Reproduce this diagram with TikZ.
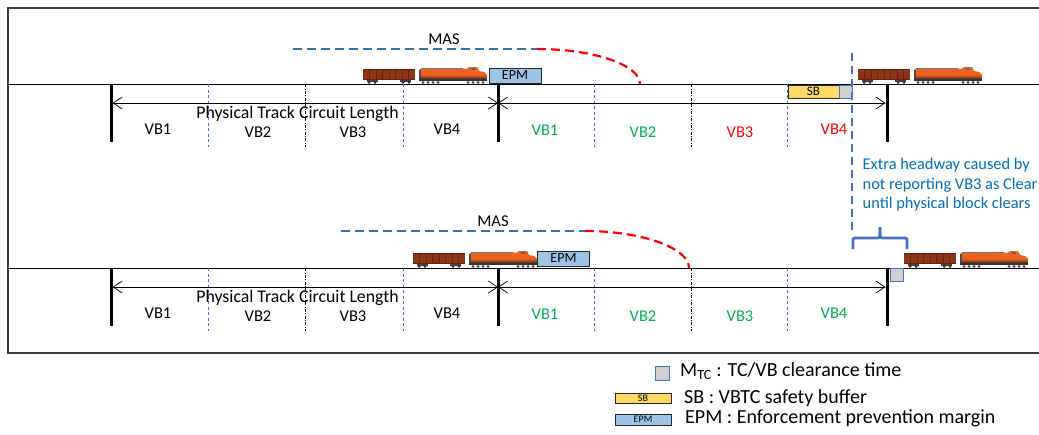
\documentclass[tikz,border=0pt]{standalone}
\usepackage{fontspec}
\setmainfont{Carlito}
\usetikzlibrary{arrows.meta}

\definecolor{framegray}{RGB}{60,60,60}
\definecolor{masblue}{RGB}{46,117,182}
\definecolor{divblue}{RGB}{68,114,196}
\definecolor{vbgreen}{RGB}{0,176,80}
\definecolor{vbred}{RGB}{255,0,0}
\definecolor{noteblue}{RGB}{0,112,192}
\definecolor{epmfill}{RGB}{157,195,230}
\definecolor{sbfill}{RGB}{255,217,102}
\definecolor{mtcfill}{RGB}{208,206,206}
\definecolor{carbrown}{RGB}{140,52,22}
\definecolor{carrib}{RGB}{100,34,12}
\definecolor{locoorange}{RGB}{236,98,36}
\definecolor{locodark}{RGB}{190,70,22}

\tikzset{
  frameline/.style={draw=framegray, line width=1.5pt},
  track/.style={draw=black, line width=1pt},
  boundary/.style={draw=black, line width=3pt},
  vbdiv/.style={draw=divblue, line width=0.8pt, dash pattern=on 3pt off 2.5pt},
  tcdiv/.style={draw=black, line width=0.7pt, dash pattern=on 3pt off 1.5pt on 0.8pt off 1.5pt},
  dimline/.style={draw=black, line width=0.7pt,
    {Straight Barb[length=9pt,width=12pt]}-{Straight Barb[length=9pt,width=12pt]}},
  vblabel/.style={font=\fontsize{16.5}{19}\selectfont, anchor=base, inner sep=0pt},
  physlabel/.style={font=\fontsize{17.8}{20}\selectfont, anchor=base, inner sep=0pt},
  maslink/.style={draw=masblue, line width=2.2pt, dash pattern=on 9pt off 5pt},
  masarc/.style={draw=vbred, line width=2.2pt, dash pattern=on 9pt off 5pt},
  epmbox/.style={draw=black!85, fill=epmfill, line width=0.9pt, minimum width=52pt,
    minimum height=15pt, inner sep=0pt, font=\fontsize{14}{14}\selectfont},
  sbbox/.style={draw=black!85, fill=sbfill, line width=0.9pt, minimum width=51pt,
    minimum height=13pt, inner sep=0pt, font=\fontsize{13}{13}\selectfont},
  mtcbox/.style={draw=divblue, fill=mtcfill, line width=0.9pt, minimum width=13pt,
    minimum height=13pt, inner sep=0pt},
  headmark/.style={draw=divblue, line width=2.8pt, dash pattern=on 8pt off 5pt},
  bracket/.style={draw=divblue, line width=2.8pt},
  note/.style={text=noteblue, font=\fontsize{16.4}{19.5}\selectfont, anchor=base west, inner sep=0pt},
  legtext/.style={font=\fontsize{20}{22}\selectfont, anchor=base west, inner sep=0pt},
  train/.pic={
    % open box car
    \fill[carbrown] (0,-15) rectangle (52,-4);
    \fill[carrib] (0,-15) rectangle (52,-13.8);
    \fill[carrib] (0,-5) rectangle (52,-4);
    \foreach \k in {1,...,7} \draw[carrib, line width=0.5pt] ({\k*6.5},-15) -- ({\k*6.5},-4);
    \fill[black!75] (4,-4) rectangle (15,-2);
    \fill[black!75] (37,-4) rectangle (48,-2);
    \foreach \w in {6,12,40,46} \fill[black!80] (\w,-1.5) circle (1.5);
    % locomotive
    \fill[black!80] (56,-6) rectangle (124,-3);
    \foreach \w in {60,65,70,75,105,110,115,120} \fill[black!70] (\w,-1.6) circle (1.6);
    \fill[locoorange] (56,-6) -- (56,-14) -- (58,-15.5) -- (104,-15.5) -- (106,-17)
      -- (114,-17) -- (116,-13) -- (121,-12) -- (124,-9) -- (124,-6) -- cycle;
    \fill[black!55] (58,-16.5) rectangle (100,-15.5);
    \fill[locodark] (56,-8.5) rectangle (124,-6);
    \fill[black!60] (108,-16) rectangle (112,-14);
    \fill[black!70] (56,-14) rectangle (57.5,-6);
  }
}

% one track row: #1 name prefix, #2 and #3 colours of the right-hand VB3 and VB4
\newcommand\trackrow[3]{%
  \draw[track] (8,0) coordinate (#1w) -- (1039,0) coordinate (#1e);
  \foreach \x in {208,403,594,787} \draw[vbdiv] (\x,0) -- (\x,63);
  \foreach \x in {305,691} \draw[tcdiv] (\x,0) -- (\x,63);
  \draw[boundary] (111,0) coordinate (#1b0) -- (111,58);
  \draw[boundary] (498,0) coordinate (#1b1) -- (498,58);
  \draw[boundary] (887,0) coordinate (#1b2) -- (887,58);
  \coordinate (#1d0) at (112.5,19);
  \coordinate (#1d1) at (498,19);
  \coordinate (#1d2) at (885.5,19);
  \draw[dimline] (#1d0) -- (#1d1);
  \draw[dimline] (#1d1) -- (#1d2);
  \node[physlabel] (#1phys) at (297.5,34.5) {Physical Track Circuit Length};
  \node[vblabel] (#1l1) at (158,50) {VB1};
  \node[vblabel] (#1l2) at (258,53) {VB2};
  \node[vblabel] (#1l3) at (353,53) {VB3};
  \node[vblabel] (#1l4) at (447,50) {VB4};
  \node[vblabel, text=vbgreen] (#1r1) at (545,51) {VB1};
  \node[vblabel, text=vbgreen] (#1r2) at (643,53) {VB2};
  \node[vblabel, text=#2] (#1r3) at (740,53) {VB3};
  \node[vblabel, text=#3] (#1r4) at (834,50) {VB4};
}

\begin{document}
\begin{tikzpicture}[x=1pt, y=-1pt]
\useasboundingbox (0,0) rectangle (1039,434);
\fill[white] (0,0) rectangle (1039,434);

% frame
\draw[frameline] (1039,8) -- (8,8) -- (8,353) -- (1039,353);

% the two track rows
\begin{scope}[shift={(0,84)}]
  \trackrow{top}{vbred}{vbred}
\end{scope}
\begin{scope}[shift={(0,268)}]
  \trackrow{bot}{vbgreen}{vbgreen}
\end{scope}

% upper scenario
\coordinate (masA0) at (293,49);
\coordinate (masA1) at (537,49);
\coordinate (masA2) at (640,84);
\draw[maslink] (masA0) -- (masA1);
\draw[masarc] (masA1) .. controls (594,49) and (640,65) .. (masA2);
\node[vblabel] (masA) at (444,44) {MAS};
\pic (trainA) at (363,84) {train};
\node[epmbox] (epmA) at (515,75.5) {EPM};
\pic (trainB) at (858,84) {train};
\node[sbbox] (sbA) at (813.5,91.5) {SB};
\node[mtcbox, anchor=west] (mtcA) at (sbA.east) {};

% lower scenario
\coordinate (masB0) at (341,231);
\coordinate (masB1) at (585,231);
\coordinate (masB2) at (689,268);
\draw[maslink] (masB0) -- (masB1);
\draw[masarc] (masB1) .. controls (642,231) and (689,248) .. (masB2);
\node[vblabel] (masB) at (493,226) {MAS};
\pic (trainC) at (413,268) {train};
\node[epmbox] (epmB) at (563.5,258.5) {EPM};
\pic (trainD) at (904,268) {train};
\node[mtcbox] (mtcB) at (896.5,274.5) {};

% extra headway marker
\coordinate (hm0) at (852,53);
\coordinate (hm1) at (852,232);
\draw[headmark] (hm0) -- (hm1);
\draw[bracket] (853,249) -- (853,242) .. controls (853,238) .. (857,238) -- (875,238)
  .. controls (880,238) .. (880,233) -- (880,227);
\draw[bracket] (880,227) -- (880,233) .. controls (880,238) .. (885,238) -- (903,238)
  .. controls (907,238) .. (907,242) -- (907,249);
\node[note] (note1) at (862.5,169) {Extra headway caused by};
\node[note] (note2) at (862.5,189) {not reporting VB3 as Clear};
\node[note] (note3) at (862.5,208.5) {until physical block clears};

% legend
\node[mtcbox, minimum width=14pt, minimum height=14pt] (legM) at (662,373) {};
\node[legtext] (legMtxt) at (680,376) {M\textsubscript{TC} : TC/VB clearance time};
\node[sbbox, minimum width=56pt, minimum height=10pt, font=\fontsize{10}{11}\selectfont] (legSB) at (643,398) {SB};
\node[legtext] (legSBtxt) at (684,403) {SB : VBTC safety buffer};
\node[epmbox, minimum width=56pt, minimum height=11pt, font=\fontsize{10}{11}\selectfont] (legEPM) at (643,419.5) {EPM};
\node[legtext] (legEPMtxt) at (685,423) {EPM : Enforcement prevention margin};
\end{tikzpicture}
\end{document}
